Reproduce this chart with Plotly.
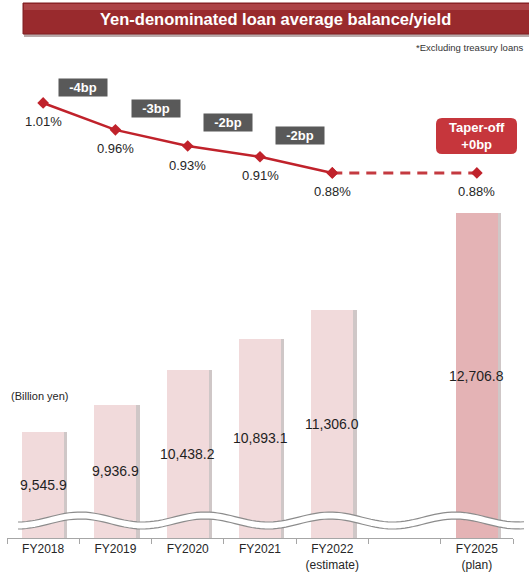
import numpy as np
import plotly.graph_objects as go

# ---------------- data ----------------
categories = ["FY2018", "FY2019", "FY2020", "FY2021", "FY2022", "FY2025"]
sublabels = ["", "", "", "", "(estimate)", "(plan)"]
balance = [9545.9, 9936.9, 10438.2, 10893.1, 11306.0, 12706.8]   # billion yen
yield_pct = [1.01, 0.96, 0.93, 0.91, 0.88, 0.88]                  # %
bp_changes = ["-4bp", "-3bp", "-2bp", "-2bp"]
taper_label = "Taper-off<br>+0bp"
title_text = "Yen-denominated loan average balance/yield"
note_text = "*Excluding treasury loans"
unit_text = "(Billion yen)"

# ---------------- layout constants ----------------
W, H = 529, 577
ML, MR, MT, MB = 7, 16, 0, 39
PW, PH = W - ML - MR, H - MT - MB
FONT = "Liberation Sans, Arial, sans-serif"
Y_BASE, Y_TOP = 8016, 15782          # broken balance axis
Y2_RANGE = [0.2014, 1.2014]          # yield axis

def PX(x):
    return (x - ML) / PW

def PY(y):
    return (MT + PH - y) / PH

# axis categories (empty slot between FY2022 and FY2025)
labels = [c if not s else f"{c}<br>{s}" for c, s in zip(categories, sublabels)]
axis_cats = labels[:5] + [" "] + labels[5:]
pos = [axis_cats.index(l) for l in labels]

bar_colors = ["#F1DADB"] * 5 + ["#E4B3B5"]

fig = go.Figure()

# shadow bars
fig.add_trace(go.Bar(x=labels, y=balance, width=0.58, offset=-0.29 + 0.045,
                     marker=dict(color="#CFC7C7", line=dict(width=0)),
                     hoverinfo="skip", showlegend=False))
# bars
fig.add_trace(go.Bar(x=labels, y=balance, width=0.58, offset=-0.29,
                     marker=dict(color=bar_colors, line=dict(width=0)),
                     hoverinfo="skip", showlegend=False))

line_col = "#C0222B"
# solid yield line
fig.add_trace(go.Scatter(x=labels[:5], y=yield_pct[:5], yaxis="y2", mode="lines+markers",
                         line=dict(color=line_col, width=2.5),
                         marker=dict(symbol="diamond", size=9, color=line_col),
                         hoverinfo="skip", showlegend=False))
# dashed plan line
fig.add_trace(go.Scatter(x=labels[4:6], y=yield_pct[4:6], yaxis="y2", mode="lines+markers",
                         line=dict(color="#C43A40", width=3, dash="10px,7px"),
                         marker=dict(symbol="diamond", size=9, color=line_col),
                         hoverinfo="skip", showlegend=False))

annotations = []
# percentage labels
for p, v in zip(pos, yield_pct):
    annotations.append(dict(x=p, y=v, xref="x", yref="y2", text=f"{v:.2f}%",
                            showarrow=False, yshift=-19, xanchor="center", yanchor="middle",
                            font=dict(family=FONT, size=13, color="#262626")))
# bp change boxes
for i, t in enumerate(bp_changes):
    ymid = (yield_pct[i] + yield_pct[i + 1]) / 2
    annotations.append(dict(x=i + 0.5, y=ymid, xref="x", yref="y2", text=f"<b>{t}</b>",
                            showarrow=False, xshift=4, yshift=29,
                            xanchor="center", yanchor="middle",
                            bgcolor="#595959", width=46, height=15, borderpad=1,
                            font=dict(family=FONT, size=13, color="white")))
# taper-off text
annotations.append(dict(x=pos[5], y=yield_pct[5], xref="x", yref="y2",
                        text=f"<b>{taper_label}</b>", showarrow=False, yshift=37,
                        xanchor="center", yanchor="middle",
                        font=dict(family=FONT, size=13, color="white")))
# bar value labels (centred in visible part of bar)
for p, v in zip(pos, balance):
    annotations.append(dict(x=p, y=(v + Y_BASE) / 2, xref="x", yref="y",
                            text=f"{v:,.1f}", showarrow=False,
                            xanchor="center", yanchor="middle",
                            font=dict(family=FONT, size=14, color="#1F1F1F")))
# unit label
annotations.append(dict(x=PX(9), y=PY(396), xref="paper", yref="paper", text=unit_text,
                        showarrow=False, xanchor="left", yanchor="middle",
                        font=dict(family=FONT, size=11, color="#262626")))
# note
annotations.append(dict(x=PX(525), y=PY(47), xref="paper", yref="paper", text=note_text,
                        showarrow=False, xanchor="right", yanchor="middle",
                        font=dict(family=FONT, size=9.5, color="#333333")))
# title
annotations.append(dict(x=PX(275), y=PY(19), xref="paper", yref="paper",
                        text=f"<b>{title_text}</b>", showarrow=False,
                        xanchor="center", yanchor="middle",
                        font=dict(family=FONT, size=16.5, color="white")))

shapes = []
# title banner: shadow, body, highlight
shapes.append(dict(type="rect", xref="paper", yref="paper", x0=PX(24), x1=PX(531),
                   y0=PY(37), y1=PY(5), fillcolor="#B8A9A9", line=dict(width=0), layer="above"))
shapes.append(dict(type="rect", xref="paper", yref="paper", x0=PX(23), x1=PX(531),
                   y0=PY(34), y1=PY(3), fillcolor="#992A2D", line=dict(color="#7E1F22", width=1),
                   layer="above"))
shapes.append(dict(type="rect", xref="paper", yref="paper", x0=PX(24), x1=PX(530),
                   y0=PY(10), y1=PY(4), fillcolor="#B04B4E", line=dict(width=0), layer="above",
                   opacity=0.8))

# rounded taper-off box
def rounded(x0, y0, x1, y1, r):
    pts = [
        f"M {PX(x0 + r)},{PY(y0)}",
        f"L {PX(x1 - r)},{PY(y0)}",
        f"Q {PX(x1)},{PY(y0)} {PX(x1)},{PY(y0 + r)}",
        f"L {PX(x1)},{PY(y1 - r)}",
        f"Q {PX(x1)},{PY(y1)} {PX(x1 - r)},{PY(y1)}",
        f"L {PX(x0 + r)},{PY(y1)}",
        f"Q {PX(x0)},{PY(y1)} {PX(x0)},{PY(y1 - r)}",
        f"L {PX(x0)},{PY(y0 + r)}",
        f"Q {PX(x0)},{PY(y0)} {PX(x0 + r)},{PY(y0)} Z",
    ]
    return " ".join(pts)

shapes.append(dict(type="path", xref="paper", yref="paper", path=rounded(436, 118, 517, 154, 6),
                   fillcolor="#C6363C", line=dict(width=0), layer="below"))

# axis break wave (decoration)
wx = np.linspace(18, 524, 120)
wy_top = 517 - 5 * np.sin((wx - 49) / 125 * 2 * np.pi)
wy_bot = wy_top + 7
band = "M " + " L ".join(f"{PX(a)},{PY(b)}" for a, b in zip(wx, wy_top))
band += " L " + " L ".join(f"{PX(a)},{PY(b)}" for a, b in zip(wx[::-1], wy_bot[::-1])) + " Z"
shapes.append(dict(type="path", xref="paper", yref="paper", path=band,
                   fillcolor="white", line=dict(width=0), layer="above"))
for wy in (wy_top, wy_bot):
    p = "M " + " L ".join(f"{PX(a)},{PY(b)}" for a, b in zip(wx, wy))
    shapes.append(dict(type="path", xref="paper", yref="paper", path=p,
                       line=dict(color="#8C8C8C", width=1.2), layer="above"))

fig.update_layout(
    width=W, height=H,
    margin=dict(l=ML, r=MR, t=MT, b=MB),
    paper_bgcolor="white", plot_bgcolor="white",
    barmode="overlay", bargap=0,
    showlegend=False,
    font=dict(family=FONT, color="#262626"),
    xaxis=dict(type="category", categoryorder="array", categoryarray=axis_cats,
               range=[-0.5, len(axis_cats) - 0.5],
               showline=True, linecolor="#A6A6A6", linewidth=1,
               ticks="outside", tickson="boundaries", ticklen=5, tickcolor="#A6A6A6",
               showgrid=False, zeroline=False,
               tickfont=dict(family=FONT, size=12, color="#262626")),
    yaxis=dict(range=[Y_BASE, Y_TOP], visible=False, showgrid=False, zeroline=False),
    yaxis2=dict(range=Y2_RANGE, overlaying="y", visible=False, showgrid=False, zeroline=False),
    annotations=annotations,
    shapes=shapes,
)

fig.write_html("out.html")
